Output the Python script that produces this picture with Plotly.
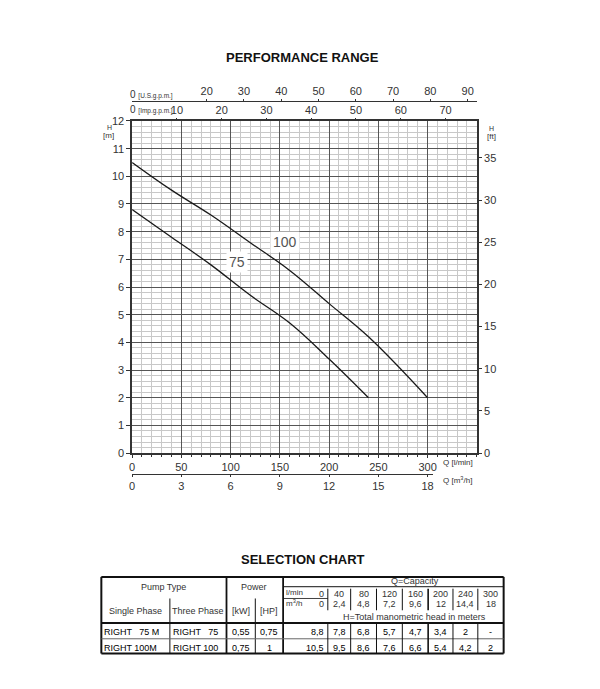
import plotly.graph_objects as go

# ---------------- data ----------------
q_lmin = [0, 40, 80, 120, 160, 200, 240, 300]
q_m3h = [0, 2.4, 4.8, 7.2, 9.6, 12, 14.4, 18]
h_75 = [8.8, 7.8, 6.8, 5.7, 4.7, 3.4, 2.0, None]
h_100 = [10.5, 9.5, 8.6, 7.6, 6.6, 5.4, 4.2, 2.0]

x_ticks_lmin = [0, 50, 100, 150, 200, 250, 300]
x_ticks_m3h = [0, 3, 6, 9, 12, 15, 18]
x_ticks_usgpm = [20, 30, 40, 50, 60, 70, 80, 90]
x_ticks_impgpm = [10, 20, 30, 40, 50, 60, 70]
y_ticks_m = list(range(0, 13))
y_ticks_ft = [0, 5, 10, 15, 20, 25, 30, 35]

pumps_single = ["RIGHT   75 M", "RIGHT 100M"]
pumps_three = ["RIGHT   75", "RIGHT 100"]
power_kw = ["0,55", "0,75"]
power_hp = ["0,75", "1"]

W, H = 600, 689
Q_MAX = 350.0
H_MAX = 12.0
PX_L, PX_R, PX_T, PX_B = 130, 477, 117, 455


def px(x):
    return x / W


def py(y):
    return 1 - y / H


def fmt(v):
    if v is None:
        return "-"
    return ("%g" % v).replace(".", ",")


FONT = "Liberation Sans, Arial"
TFONT = "Liberation Sans, Arial"
TXT = "#333333"
CLEAR = "rgba(0,0,0,0)"

fig = go.Figure()

fig.add_trace(go.Scatter(x=q_lmin, y=h_75, mode="lines",
                         line=dict(color="#1a1a1a", width=1.3, shape="spline", smoothing=1.1),
                         showlegend=False, hoverinfo="skip", connectgaps=False))
fig.add_trace(go.Scatter(x=q_lmin, y=h_100, mode="lines",
                         line=dict(color="#1a1a1a", width=1.3, shape="spline", smoothing=1.1),
                         showlegend=False, hoverinfo="skip"))
# invisible traces to activate the extra axes
fig.add_trace(go.Scatter(x=[0], y=[0], yaxis="y2", mode="markers", marker=dict(opacity=0),
                         showlegend=False, hoverinfo="skip"))
fig.add_trace(go.Scatter(x=[0], y=[0], xaxis="x2", mode="markers", marker=dict(opacity=0),
                         showlegend=False, hoverinfo="skip"))
fig.add_trace(go.Scatter(x=[0], y=[0], xaxis="x3", mode="markers", marker=dict(opacity=0),
                         showlegend=False, hoverinfo="skip"))
fig.add_trace(go.Scatter(x=[0], y=[0], xaxis="x4", yaxis="y3", mode="markers", marker=dict(opacity=0),
                         showlegend=False, hoverinfo="skip"))

m_per_ft = 0.3048
px_per_q = (PX_R - PX_L) / Q_MAX
m3h_end_q = 305.0

fig.update_layout(
    width=W, height=H,
    margin=dict(l=0, r=0, t=0, b=0),
    paper_bgcolor="white", plot_bgcolor=CLEAR,
    font=dict(family=FONT, size=11, color=TXT),
    xaxis=dict(domain=[px(PX_L), px(PX_R)], range=[0, Q_MAX], tickvals=x_ticks_lmin,
               showline=True, mirror=True, linecolor="#333", linewidth=1.5,
               showgrid=True, gridcolor="#555", gridwidth=1.1,
               ticks="outside", ticklen=3, tickcolor="#333",
               minor=dict(dtick=10, tick0=0, showgrid=True, gridcolor="#c8c8c8", gridwidth=1,
                          ticks="outside", ticklen=2, tickcolor="#333"),
               zeroline=False, tickfont=dict(size=11, color=TXT)),
    yaxis=dict(domain=[py(PX_B), py(PX_T)], range=[0, H_MAX], tickvals=y_ticks_m,
               showline=True, mirror=True, linecolor="#333", linewidth=1.5,
               showgrid=True, gridcolor="#555", gridwidth=1.1,
               ticks="outside", ticklen=4, tickcolor="#333",
               minor=dict(dtick=0.2, tick0=0, showgrid=True, gridcolor="#c8c8c8", gridwidth=1),
               zeroline=False, tickfont=dict(size=11, color=TXT)),
    yaxis2=dict(overlaying="y", side="right", anchor="x", range=[0, H_MAX / m_per_ft], tickvals=y_ticks_ft,
                showgrid=False, zeroline=False, ticks="outside", ticklen=4, tickcolor="#333",
                showline=False, tickfont=dict(size=11, color=TXT)),
    yaxis3=dict(domain=[py(PX_B), py(PX_T)], anchor="free", position=0, range=[0, 1], visible=False,
                showgrid=False, zeroline=False),
    xaxis2=dict(overlaying="x", anchor="free", position=py(97), side="top",
                range=[0, Q_MAX / 3.7854], tickvals=x_ticks_usgpm,
                showline=True, linecolor="#333", linewidth=1.2, showgrid=False, zeroline=False,
                ticks="outside", ticklen=2, tickcolor="#333", tickfont=dict(size=11, color=TXT)),
    xaxis3=dict(overlaying="x", anchor="y", side="top",
                range=[0, Q_MAX / 4.5461], tickvals=x_ticks_impgpm,
                showline=False, showgrid=False, zeroline=False,
                ticks="outside", ticklen=2, tickcolor="#333", tickfont=dict(size=11, color=TXT)),
    xaxis4=dict(domain=[px(PX_L), px(PX_L + m3h_end_q * px_per_q)], anchor="free", position=py(476),
                side="bottom", range=[0, m3h_end_q / 16.6667], tickvals=x_ticks_m3h,
                showline=True, linecolor="#333", linewidth=1.2, showgrid=False, zeroline=False,
                ticks="outside", ticklen=2, tickcolor="#333", tickfont=dict(size=11, color=TXT)),
)

ann = []


def A(x, y, text, size=11, xanchor="center", yanchor="middle", family=FONT, color=TXT, **kw):
    ann.append(dict(x=px(x), y=py(y), xref="paper", yref="paper", text=text, showarrow=False,
                    xanchor=xanchor, yanchor=yanchor, font=dict(family=family, size=size, color=color), **kw))


# curve labels (data coords)
ann.append(dict(x=106, y=6.92, xref="x", yref="y", text="75", showarrow=False, bgcolor="white",
                font=dict(family=FONT, size=14, color="#555"), borderpad=2))
ann.append(dict(x=155, y=7.63, xref="x", yref="y", text="100", showarrow=False, bgcolor="white",
                font=dict(family=FONT, size=14, color="#555"), borderpad=2))

A(302, 52, "<b>PERFORMANCE RANGE</b>", size=13, family=TFONT, color="#111")
A(302, 563, "<b>SELECTION CHART</b>", size=13, family=TFONT, color="#111")

A(126, 90, "0 <span style='font-size:6.5px'>[U.S.g.p.m.]</span>", size=10, xanchor="left")
A(126, 105, "0 <span style='font-size:6.5px'>[Imp.g.p.m.]</span>", size=10, xanchor="left")
A(107, 124, "H", size=7)
A(106, 132, "[m]", size=8)
A(492, 125, "H", size=7)
A(492, 133, "[ft]", size=8)
A(458, 465, "Q [l/min]", size=8)
A(458, 482, "Q [m<sup>3</sup>/h]", size=8)

# ---------------- table ----------------
shapes = []


def L(x0, y0, x1, y1, w=1.0, c="#111"):
    shapes.append(dict(type="line", xref="paper", yref="paper", x0=px(x0), y0=py(y0), x1=px(x1), y1=py(y1),
                       line=dict(color=c, width=w)))


TL, TR, TT, TB = 99, 504, 581, 659
L(TL, TT, TR, TT, 2)
L(TL, TB, TR, TB, 2)
L(TL, TT, TL, TB, 2)
L(TR, TT, TR, TB, 2)
L(225, TT, 225, TB, 1.8)
L(282, TT, 282, TB, 1.8)
L(168, 603, 168, TB, 1)
L(254, 603, 254, TB, 1)
L(TL, 628, TR, 628, 2)
L(TL, 644, TR, 644, 1, "#666")
L(282, 591, TR, 591, 1)
L(282, 603, 327, 603, 0.8)

col_edges = [282, 327, 350, 376, 402, 428, 453, 478, 504]
for xe in col_edges[1:-1]:
    w = 1.6 if xe == 428 else 1
    L(xe, 593, xe, 615, w)
    L(xe, 628, xe, TB, w)

TS = 9
A(162, 591, "Pump Type", size=TS, family=TFONT)
A(253, 591, "Power", size=TS, family=TFONT)
A(133, 616, "Single Phase", size=TS, family=TFONT)
A(196, 616, "Three Phase", size=TS, family=TFONT)
A(240, 616, "[kW]", size=TS, family=TFONT)
A(268, 616, "[HP]", size=TS, family=TFONT)
for r, yy in enumerate([637, 653]):
    A(100, yy, pumps_single[r], size=TS, family=TFONT, xanchor="left", color="#000")
    A(169, yy, pumps_three[r], size=TS, family=TFONT, xanchor="left", color="#000")
    A(240, yy, power_kw[r], size=TS, family=TFONT, color="#000")
    A(268, yy, power_hp[r], size=TS, family=TFONT, color="#000")

A(415, 585, "Q=Capacity", size=TS, family=TFONT)
A(283, 597, "l/min", size=8, family=TFONT, xanchor="left")
A(283, 608, "m<sup>3</sup>/h", size=8, family=TFONT, xanchor="left")
A(414, 622, "H=Total manometric head in meters", size=TS, family=TFONT)

for i in range(len(q_lmin)):
    x0, x1 = col_edges[i], col_edges[i + 1]
    if i == 0:
        xx, xa = x1 - 1.5, "right"
    else:
        xx, xa = (x0 + x1) / 2, "center"
    A(xx, 598, fmt(q_lmin[i]), size=TS, family=TFONT, xanchor=xa)
    A(xx, 609, fmt(q_m3h[i]), size=TS, family=TFONT, xanchor=xa)
    A(xx, 637, fmt(h_75[i]), size=TS, family=TFONT, color="#000", xanchor=xa)
    A(xx, 653, fmt(h_100[i]), size=TS, family=TFONT, color="#000", xanchor=xa)

fig.update_layout(annotations=ann, shapes=shapes)
fig.write_html("out.html")
